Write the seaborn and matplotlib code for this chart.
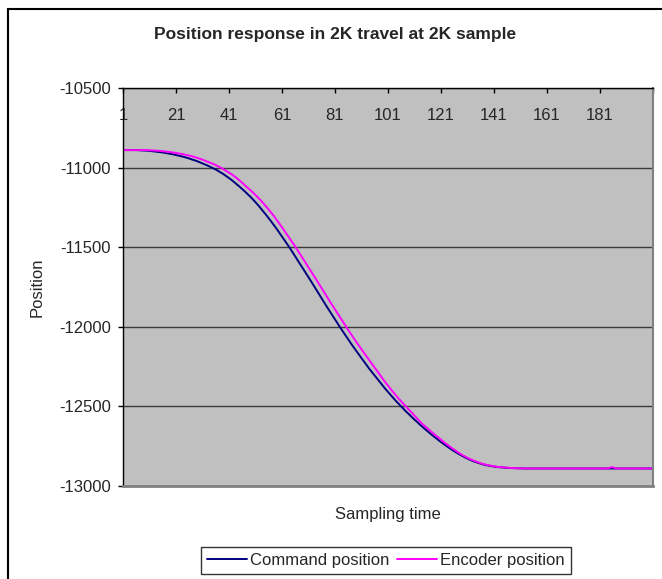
import matplotlib
matplotlib.use("Agg")
import matplotlib.pyplot as plt
import seaborn as sns
import pandas as pd
from matplotlib.patches import Rectangle

# ---------------- data ----------------
sample = list(range(1, 202))

command_position = [
    -10890, -10890, -10890, -10890, -10890, -10890, -10891, -10892, -10893, -10894,
    -10895, -10897, -10899, -10901, -10903, -10905, -10908, -10911, -10914, -10917,
    -10921, -10925, -10929, -10933, -10938, -10943, -10949, -10954, -10960, -10967,
    -10974, -10981, -10988, -10996, -11004, -11012, -11022, -11032, -11042, -11054,
    -11066, -11078, -11092, -11106, -11120, -11135, -11150, -11166, -11182, -11199,
    -11217, -11236, -11256, -11276, -11297, -11318, -11340, -11362, -11385, -11409,
    -11433, -11457, -11481, -11506, -11532, -11557, -11583, -11609, -11636, -11662,
    -11689, -11715, -11742, -11769, -11796, -11823, -11849, -11876, -11902, -11928,
    -11954, -11980, -12005, -12030, -12055, -12079, -12104, -12128, -12151, -12174,
    -12197, -12220, -12243, -12265, -12286, -12308, -12329, -12350, -12370, -12390,
    -12409, -12429, -12447, -12466, -12483, -12501, -12518, -12535, -12551, -12567,
    -12583, -12598, -12614, -12628, -12643, -12657, -12671, -12685, -12698, -12711,
    -12724, -12736, -12748, -12760, -12771, -12782, -12792, -12802, -12811, -12820,
    -12828, -12836, -12843, -12849, -12855, -12860, -12865, -12869, -12872, -12875,
    -12878, -12880, -12882, -12883, -12885, -12886, -12887, -12888, -12888, -12889,
    -12889, -12890, -12890, -12890, -12890, -12890, -12890, -12890, -12890, -12890,
    -12890, -12890, -12890, -12890, -12890, -12890, -12890, -12890, -12890, -12890,
    -12890, -12890, -12890, -12890, -12890, -12890, -12890, -12890, -12890, -12890,
    -12890, -12890, -12890, -12890, -12890, -12890, -12890, -12890, -12890, -12890,
    -12890, -12890, -12890, -12890, -12890, -12890, -12890, -12890, -12890, -12890,
    -12890,
]

encoder_position = [
    -10890, -10890, -10890, -10890, -10890, -10890, -10890, -10890, -10890, -10890,
    -10891, -10892, -10893, -10894, -10895, -10897, -10899, -10901, -10903, -10905,
    -10908, -10911, -10914, -10917, -10921, -10925, -10929, -10933, -10939, -10944,
    -10950, -10957, -10964, -10970, -10977, -10984, -10993, -11001, -11011, -11021,
    -11032, -11042, -11054, -11067, -11081, -11096, -11111, -11126, -11141, -11156,
    -11172, -11189, -11206, -11225, -11244, -11264, -11284, -11305, -11328, -11351,
    -11375, -11399, -11423, -11447, -11472, -11496, -11522, -11547, -11573, -11599,
    -11625, -11652, -11678, -11705, -11732, -11758, -11785, -11812, -11839, -11865,
    -11891, -11918, -11944, -11969, -11995, -12020, -12045, -12070, -12094, -12118,
    -12142, -12165, -12188, -12211, -12234, -12258, -12281, -12304, -12327, -12349,
    -12370, -12391, -12411, -12431, -12451, -12469, -12487, -12504, -12523, -12542,
    -12559, -12577, -12594, -12611, -12625, -12640, -12654, -12668, -12682, -12695,
    -12709, -12723, -12736, -12748, -12761, -12772, -12784, -12795, -12805, -12814,
    -12823, -12831, -12838, -12845, -12851, -12857, -12862, -12866, -12870, -12873,
    -12876, -12879, -12881, -12882, -12884, -12885, -12886, -12887, -12888, -12889,
    -12889, -12889, -12890, -12890, -12890, -12890, -12890, -12890, -12890, -12890,
    -12890, -12890, -12890, -12890, -12890, -12890, -12890, -12890, -12890, -12890,
    -12890, -12890, -12890, -12890, -12890, -12890, -12890, -12890, -12890, -12890,
    -12890, -12890, -12890, -12890, -12883, -12883, -12890, -12890, -12890, -12890,
    -12890, -12890, -12890, -12890, -12890, -12890, -12890, -12890, -12890, -12890,
    -12890,
]

series_names = ["Command position", "Encoder position"]
series_colors = ["#000080", "#FF00FF"]

x_tick_values = [1, 21, 41, 61, 81, 101, 121, 141, 161, 181, 201]
x_tick_labels = ["1", "21", "41", "61", "81", "101", "121", "141", "161", "181", ""]
y_tick_values = [-13000, -12500, -12000, -11500, -11000, -10500]
y_tick_labels = ["-13000", "-12500", "-12000", "-11500", "-11000", "-10500"]

title_text = "Position response in 2K travel at 2K sample"
x_label = "Sampling time"
y_label = "Position"

# ---------------- table ----------------
df = pd.concat([
    pd.DataFrame({"Sampling time": sample, "Position": command_position, "series": series_names[0]}),
    pd.DataFrame({"Sampling time": sample, "Position": encoder_position, "series": series_names[1]}),
], ignore_index=True)

# ---------------- style ----------------
sns.set_style("white")
plt.rcParams["font.family"] = ["Liberation Sans", "DejaVu Sans"]
plt.rcParams["font.size"] = 12

FS = 12
W, H = 662, 579
fig = plt.figure(figsize=(W / 100, H / 100), dpi=100)
fig.patch.set_facecolor("white")

L, R, T, B = 123, 653, 88, 486
ax = fig.add_axes([L / W, 1 - B / H, (R - L) / W, (B - T) / H])
ax.set_facecolor("#C0C0C0")

sns.lineplot(data=df, x="Sampling time", y="Position", hue="series",
             hue_order=series_names, palette=dict(zip(series_names, series_colors)),
             linewidth=1.4, ax=ax, legend=True, estimator=None, sort=False)

ax.set_xlim(1, 201)
ax.set_ylim(-13000, -10500)

# y axis
ax.set_yticks(y_tick_values)
ax.set_yticklabels(y_tick_labels)
ax.tick_params(axis="y", direction="out", length=3.6, width=1, color="black",
               pad=5.0, labelsize=FS, left=True)
ax.yaxis.grid(True, color="#3a3a3a", linewidth=1)
ax.xaxis.grid(False)
ax.set_axisbelow(True)

# x axis: ticks and labels along the top, pointing into the plot
ax.set_xticks(x_tick_values)
ax.set_xticklabels(x_tick_labels)
ax.xaxis.set_ticks_position("top")
ax.tick_params(axis="x", direction="in", length=3.6, width=1, color="black",
               top=True, bottom=False, labeltop=True, labelbottom=False,
               pad=-25, labelsize=FS)

# spines
for side in ["left", "top"]:
    ax.spines[side].set_color("black")
    ax.spines[side].set_linewidth(1.0)
ax.spines["bottom"].set_color("#808080")
ax.spines["bottom"].set_linewidth(2.0)
ax.spines["right"].set_color("#808080")
ax.spines["right"].set_linewidth(1.5)
for s in ax.spines.values():
    s.set_visible(True)

# labels
ax.set_ylabel(y_label, fontsize=FS)
ax.yaxis.set_label_coords((45 - L) / (R - L), 0.5)
ax.set_xlabel(x_label, fontsize=FS)
ax.xaxis.set_label_position("bottom")
ax.xaxis.label.set_verticalalignment("center")
ax.xaxis.set_label_coords(0.5, -(514 - B) / (B - T))

fig.text(335 / W, 1 - 34 / H, title_text, ha="center", va="center",
         fontsize=12.5, fontweight="bold")

# legend
handles, labels = ax.get_legend_handles_labels()
ax.get_legend().remove()
leg = fig.legend(handles, labels, loc="center", ncol=2,
                 bbox_to_anchor=(386 / W, 1 - 560.5 / H),
                 frameon=True, fancybox=False, edgecolor="black",
                 fontsize=FS, handlelength=2.4, handletextpad=0.2,
                 columnspacing=0.45, borderpad=0.35, borderaxespad=0)
leg.get_frame().set_linewidth(1.0)
for line in leg.get_lines():
    line.set_linewidth(1.4)

# outer chart border
fig.patches.append(Rectangle((8 / W, -0.05), 1.0, 1 - 9 / H + 0.05,
                             transform=fig.transFigure, fill=False,
                             edgecolor="black", linewidth=1.5))

fig.savefig("out.png", dpi=100)
